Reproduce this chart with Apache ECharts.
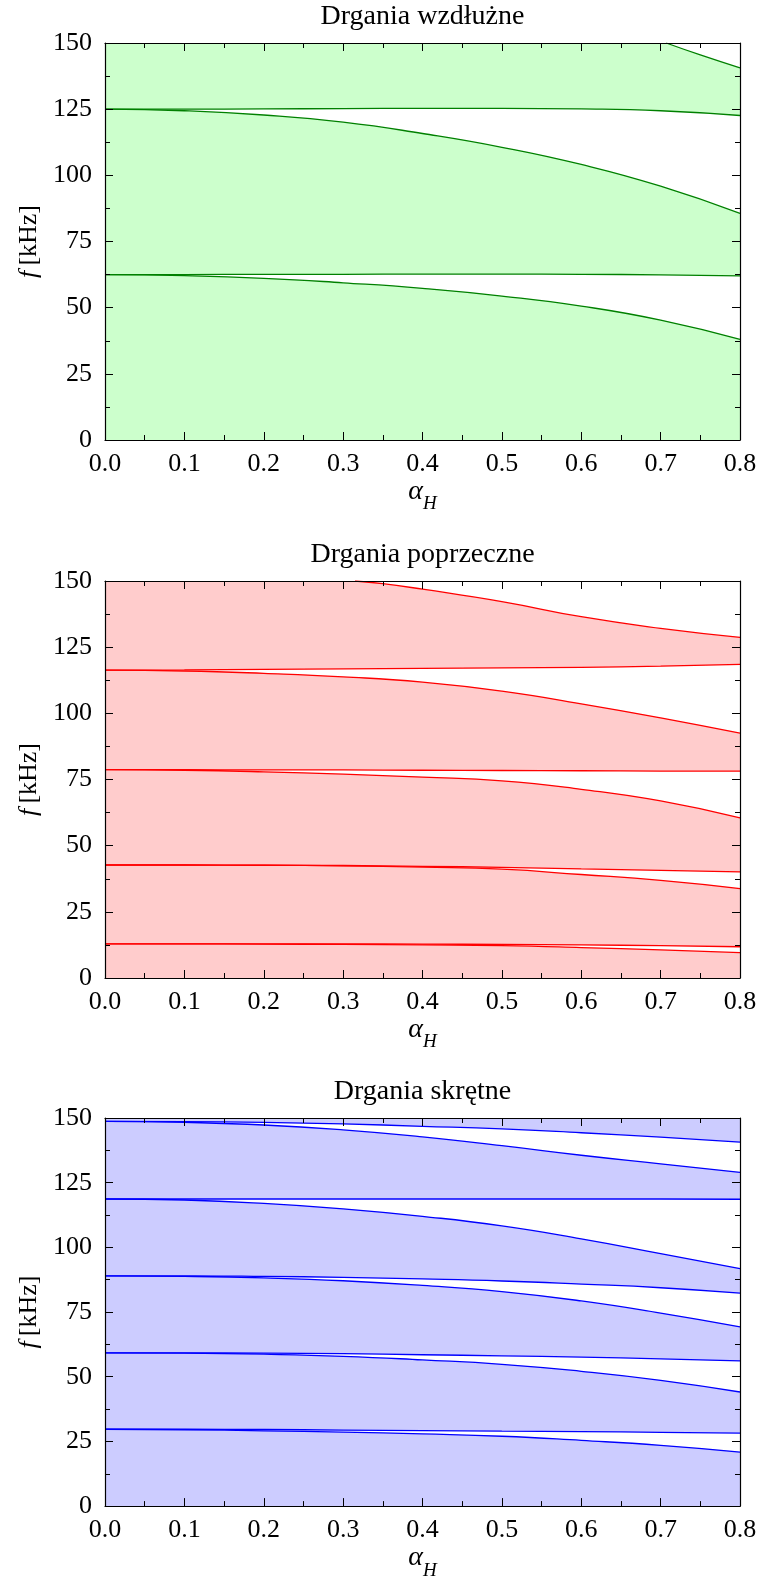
<!DOCTYPE html>
<html>
<head>
<meta charset="utf-8">
<script src="https://cdn.jsdelivr.net/npm/echarts@6/dist/echarts.min.js"></script>
<style>
  html, body { margin: 0; padding: 0; background: #fff; }
  #chart { width: 761px; height: 1581px; }
</style>
</head>
<body>
<div id="chart"></div>
<script>
// Dimensionless parameter alpha_H (x axis)
const alphaH = [0, 0.1, 0.2, 0.3, 0.4, 0.5, 0.6, 0.7, 0.8];
const xTickValues = [0, 0.1, 0.2, 0.3, 0.4, 0.5, 0.6, 0.7, 0.8];
const yTickValues = [0, 25, 50, 75, 100, 125, 150];

// Drgania wzdłużne: edges of the stop bands [kHz]
const lon1Low  = [62.5, 62.1, 61.1, 59.4, 57.3, 54.4, 50.6, 45.3, 38.0];
const lon1High = [62.5, 62.5, 62.6, 62.6, 62.7, 62.7, 62.6, 62.4, 62.0];
const lon2Low  = [125.0, 124.4, 122.8, 120.1, 115.8, 110.6, 104.1, 95.9, 85.6];
const lon2High = [125.0, 125.0, 125.1, 125.2, 125.3, 125.3, 125.1, 124.4, 122.6];
const lon3Alpha = [0.707, 0.75, 0.8];
const lon3Low   = [150.0, 145.5, 140.6];

// Drgania poprzeczne
const tr1Low  = [12.9, 12.9, 12.8, 12.7, 12.5, 12.2, 11.5, 10.6, 9.6];
const tr1High = [12.9, 12.9, 12.9, 12.9, 12.8, 12.7, 12.5, 12.2, 11.8];
const tr2Low  = [42.7, 42.7, 42.6, 42.4, 41.9, 41.1, 39.1, 36.9, 33.8];
const tr2High = [42.7, 42.7, 42.6, 42.5, 42.2, 41.8, 41.2, 40.7, 40.1];
const tr3Low  = [78.7, 78.5, 77.9, 77.0, 75.9, 74.5, 71.3, 66.9, 60.5];
const tr3High = [78.7, 78.7, 78.6, 78.6, 78.5, 78.4, 78.3, 78.2, 78.2];
const tr4Low  = [116.3, 116.0, 115.1, 113.8, 111.8, 108.4, 103.6, 98.3, 92.5];
const tr4High = [116.3, 116.4, 116.6, 116.8, 117.0, 117.2, 117.4, 117.8, 118.5];
const tr5Alpha = [0.315, 0.35, 0.4, 0.5, 0.6, 0.7, 0.8];
const tr5Low   = [150.0, 149.0, 146.9, 142.2, 136.5, 132.1, 128.7];

// Drgania skrętne
const tor1Low  = [29.7, 29.5, 29.1, 28.6, 27.9, 27.0, 25.4, 23.5, 20.9];
const tor1High = [29.7, 29.7, 29.6, 29.4, 29.2, 29.0, 28.8, 28.5, 28.2];
const tor2Low  = [59.2, 59.1, 58.7, 57.9, 56.5, 54.8, 52.1, 48.6, 44.1];
const tor2High = [59.2, 59.2, 59.1, 58.9, 58.5, 58.1, 57.6, 56.9, 56.1];
const tor3Low  = [89.0, 88.8, 88.2, 87.1, 85.3, 82.9, 79.3, 74.6, 69.3];
const tor3High = [89.0, 89.0, 88.8, 88.4, 87.8, 87.0, 85.8, 84.4, 82.3];
const tor4Low  = [118.7, 118.3, 117.0, 114.9, 112.0, 108.3, 103.3, 97.6, 91.8];
const tor4High = [118.7, 118.7, 118.7, 118.7, 118.7, 118.7, 118.7, 118.7, 118.6];
const tor5Low  = [148.7, 148.3, 147.3, 145.4, 142.7, 139.3, 135.6, 132.3, 129.0];
const tor5High = [148.7, 148.6, 148.3, 147.7, 146.8, 145.8, 144.3, 142.6, 140.7];

const FONT = "'Liberation Serif', 'Times New Roman', serif";
const PLOT_LEFT = 105, PLOT_WIDTH = 635;
const SMOOTH = 0.5;

// Each panel: pass bands are tinted (grid background), stop bands are white.
// A stop band with hi === null reaches past the top of the axis.
const PANELS = [
  { title: 'Drgania wzdłużne', top: 43, height: 397, band: '#ccffcc', stroke: '#008000',
    gaps: [
      { x: alphaH, lo: lon1Low, hi: lon1High },
      { x: alphaH, lo: lon2Low, hi: lon2High },
      { x: lon3Alpha, lo: lon3Low, hi: null }
    ] },
  { title: 'Drgania poprzeczne', top: 581, height: 397, band: '#ffcccc', stroke: '#ff0000',
    gaps: [
      { x: alphaH, lo: tr1Low, hi: tr1High },
      { x: alphaH, lo: tr2Low, hi: tr2High },
      { x: alphaH, lo: tr3Low, hi: tr3High },
      { x: alphaH, lo: tr4Low, hi: tr4High },
      { x: tr5Alpha, lo: tr5Low, hi: null }
    ] },
  { title: 'Drgania skrętne', top: 1118, height: 396, band: '#ccccff', stroke: '#0000ff',
    gaps: [
      { x: alphaH, lo: tor1Low, hi: tor1High },
      { x: alphaH, lo: tor2Low, hi: tor2High },
      { x: alphaH, lo: tor3Low, hi: tor3High },
      { x: alphaH, lo: tor4Low, hi: tor4High },
      { x: alphaH, lo: tor5Low, hi: tor5High }
    ] }
];

const frame = { color: '#000', width: 1.2 };
const tickStyle = { color: '#000', width: 1 };

function xAxisFor(k, pos) {
  const bottom = pos === 'bottom';
  return {
    type: 'value', gridIndex: k, position: pos, z: 5,
    min: xTickValues[0], max: xTickValues[xTickValues.length - 1], interval: 0.1,
    axisLine: { show: true, onZero: false, lineStyle: frame },
    axisTick: { show: true, inside: true, length: 8, lineStyle: tickStyle },
    minorTick: { show: true, splitNumber: 2, length: 5, lineStyle: tickStyle },
    splitLine: { show: false }, minorSplitLine: { show: false },
    axisLabel: { show: bottom, margin: 11, fontSize: 26, fontFamily: FONT, color: '#000',
                 formatter: v => v.toFixed(1) },
    name: bottom ? '{a|α}{b|H}' : '',
    nameLocation: 'middle', nameGap: 36,
    nameTextStyle: {
      rich: {
        a: { fontFamily: FONT, fontStyle: 'italic', fontSize: 28, lineHeight: 28, verticalAlign: 'top', color: '#000' },
        b: { fontFamily: FONT, fontStyle: 'italic', fontSize: 19, lineHeight: 19, verticalAlign: 'top', padding: [17, 0, 0, 0], color: '#000' }
      }
    }
  };
}

function yAxisFor(k, pos) {
  const left = pos === 'left';
  return {
    type: 'value', gridIndex: k, position: pos, z: 5,
    min: yTickValues[0], max: yTickValues[yTickValues.length - 1], interval: 25,
    axisLine: { show: true, onZero: false, lineStyle: frame },
    axisTick: { show: true, inside: true, length: 8, lineStyle: tickStyle },
    minorTick: { show: true, splitNumber: 2, length: 5, lineStyle: tickStyle },
    splitLine: { show: false }, minorSplitLine: { show: false },
    axisLabel: { show: left, margin: 13, fontSize: 26, fontFamily: FONT, color: '#000' },
    name: left ? '{i|f}{r|\u2009[kHz]}' : '',
    nameLocation: 'middle', nameGap: 60, nameRotate: 90,
    nameTextStyle: {
      rich: {
        i: { fontFamily: FONT, fontStyle: 'italic', fontSize: 26, color: '#000' },
        r: { fontFamily: FONT, fontSize: 26, color: '#000' }
      }
    }
  };
}

const grids = [], xAxes = [], yAxes = [], series = [], graphics = [];

PANELS.forEach((p, k) => {
  grids.push({ left: PLOT_LEFT, width: PLOT_WIDTH, top: p.top, height: p.height,
               show: true, backgroundColor: p.band, borderWidth: 0 });
  xAxes.push(xAxisFor(k, 'bottom'), xAxisFor(k, 'top'));
  yAxes.push(yAxisFor(k, 'left'), yAxisFor(k, 'right'));

  graphics.push({
    type: 'text', x: PLOT_LEFT + PLOT_WIDTH / 2, y: p.top - 26, z: 10,
    style: { text: p.title, fontFamily: FONT, fontSize: 28, fill: '#000',
             align: 'center', verticalAlign: 'middle' }
  });

  const common = { type: 'line', xAxisIndex: 2 * k, yAxisIndex: 2 * k, symbol: 'none',
                   smooth: SMOOTH, silent: true, animation: false };
  const pts = (xs, ys) => xs.map((a, i) => [a, ys[i]]);

  // Stop bands, painted from the highest one downwards:
  // white under the upper edge, then the band tint again under the lower edge.
  p.gaps.slice().reverse().forEach(g => {
    if (g.hi === null) {
      series.push(Object.assign({}, common, { data: pts(g.x, g.lo), z: 2,
        lineStyle: { opacity: 0 }, areaStyle: { color: '#fff', opacity: 1, origin: 'end' } }));
    } else {
      series.push(Object.assign({}, common, { data: pts(g.x, g.hi), z: 2,
        lineStyle: { opacity: 0 }, areaStyle: { color: '#fff', opacity: 1, origin: 'start' } }));
      series.push(Object.assign({}, common, { data: pts(g.x, g.lo), z: 2,
        lineStyle: { opacity: 0 }, areaStyle: { color: p.band, opacity: 1, origin: 'start' } }));
    }
  });

  // Band edge curves
  p.gaps.forEach(g => {
    series.push(Object.assign({}, common, { data: pts(g.x, g.lo), z: 3,
      lineStyle: { color: p.stroke, width: 1.3 } }));
    if (g.hi !== null) {
      series.push(Object.assign({}, common, { data: pts(g.x, g.hi), z: 3,
        lineStyle: { color: p.stroke, width: 1.3 } }));
    }
  });
});

const chart = echarts.init(document.getElementById('chart'), null, { renderer: 'canvas' });
chart.setOption({
  animation: false,
  backgroundColor: '#fff',
  grid: grids,
  xAxis: xAxes,
  yAxis: yAxes,
  series: series,
  graphic: graphics
});
</script>
</body>
</html>
